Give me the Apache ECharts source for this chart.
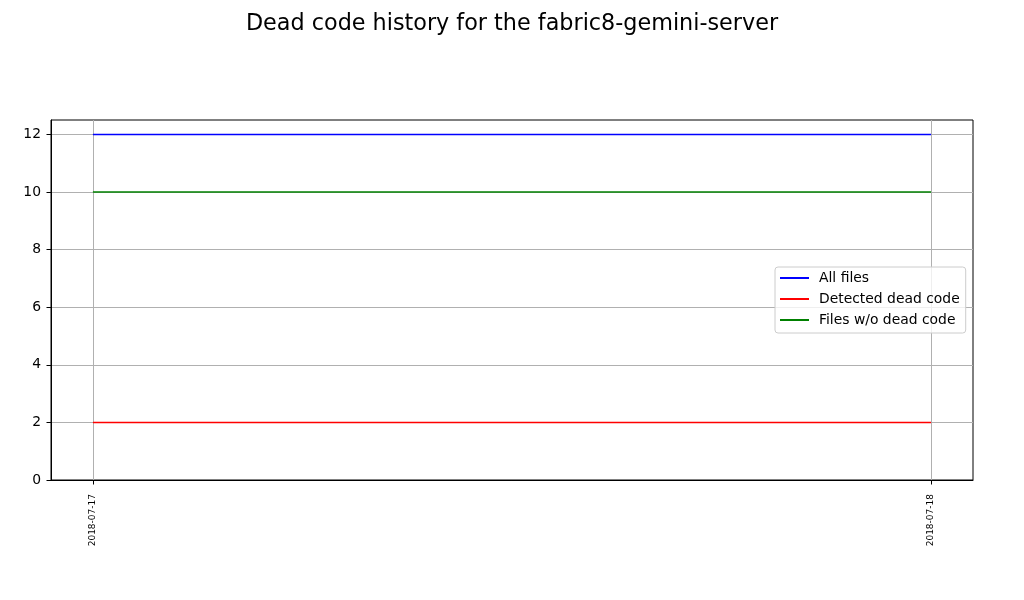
<!DOCTYPE html>
<html><head><meta charset="utf-8">
<script src="https://cdn.jsdelivr.net/npm/echarts@6/dist/echarts.min.js"></script>
<style>html,body{margin:0;padding:0;background:#fff}#c{width:1024px;height:600px}</style>
</head><body><div id="c"></div>
<script>
const dates = ['2018-07-17', '2018-07-18'];
const allFiles = [12, 12];
const deadCode = [2, 2];
const filesWithout = [10, 10];
const yTicks = [0, 2, 4, 6, 8, 10, 12];

const chart = echarts.init(document.getElementById('c'), null, {renderer: 'canvas'});
const font = 'DejaVu Sans';
const pts = arr => arr.map((v, i) => [i, v]);
const idx = dates.map((d, i) => i);
chart.setOption({
  animation: false,
  title: {text: 'Dead code history for the fabric8-gemini-server', left: 'center', top: 8,
    textStyle: {fontFamily: font, fontSize: 22.3, fontWeight: 'normal', color: '#000'}},
  grid: {left: 51, top: 120, width: 922, height: 360, show: true, borderColor: '#000', borderWidth: 1, containLabel: false},
  legend: {orient: 'vertical', left: 775, top: 267, padding: [3, 6, 5, 5], itemGap: 5,
    backgroundColor: 'rgba(255,255,255,0.8)', borderColor: '#ccc', borderWidth: 1, borderRadius: 3,
    icon: 'rect', itemWidth: 29, itemHeight: 2,
    textStyle: {fontFamily: font, fontSize: 13.9, lineHeight: 16, color: '#000', padding: [0, 0, 0, 5]},
    data: ['All files', 'Detected dead code', 'Files w/o dead code']},
  xAxis: {type: 'value', min: -0.05, max: 1.05,
    axisLine: {show: true, onZero: false, lineStyle: {color: '#000'}},
    axisTick: {show: true, customValues: idx, length: 4.5, lineStyle: {color: '#000'}},
    axisLabel: {customValues: idx, rotate: 90, fontFamily: font, fontSize: 9, color: '#000', margin: 14,
      formatter: v => dates[Math.round(v)]},
    splitLine: {show: true, lineStyle: {color: '#b0b0b0', width: 1}}},
  yAxis: {type: 'value', min: 0, max: 12.5,
    axisLine: {show: true, onZero: false, lineStyle: {color: '#000'}},
    axisTick: {show: true, customValues: yTicks, length: 4.5, lineStyle: {color: '#000'}},
    axisLabel: {customValues: yTicks, fontFamily: font, fontSize: 13.9, color: '#000', margin: 10},
    splitLine: {show: true, lineStyle: {color: '#b0b0b0', width: 1}}},
  series: [
    {name: 'All files', type: 'line', data: pts(allFiles), showSymbol: false, symbol: 'none', color: '#0000ff', lineStyle: {width: 1.5}},
    {name: 'Detected dead code', type: 'line', data: pts(deadCode), showSymbol: false, symbol: 'none', color: '#ff0000', lineStyle: {width: 1.5}},
    {name: 'Files w/o dead code', type: 'line', data: pts(filesWithout), showSymbol: false, symbol: 'none', color: '#008000', lineStyle: {width: 1.5}}
  ]
});
</script></body></html>
